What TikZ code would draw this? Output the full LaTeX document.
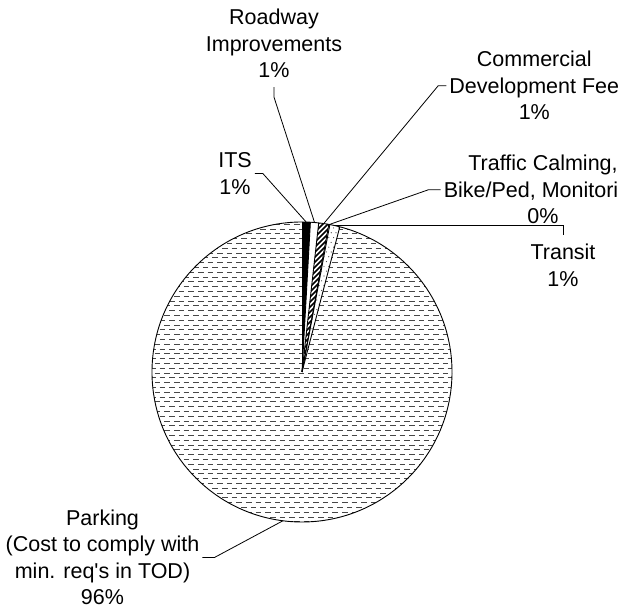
\documentclass[tikz,border=0pt]{standalone}
\usepackage{fontspec}
\setmainfont{Liberation Sans}
\usetikzlibrary{calc}

\begin{document}
\begin{tikzpicture}[x=1pt, y=1pt,
    lbl/.style={align=center, inner xsep=3pt, inner ysep=9pt, font=\fontsize{21.5}{26.5}\selectfont},
    leader/.style={draw=black, line width=0.8pt},
    rim/.style={draw=black, line width=0.9pt},
    dashrow/.style={draw=black!72, line width=1pt, dash pattern=on 5.5pt off 4.1pt}]
  \useasboundingbox (0,0) rectangle (622,612);
  % pie centre, radius and slice borders (clockwise from the top)
  \def\R{150}
  \def\aa{90} \def\ab{86.8} \def\ac{83.6} \def\ad{79.7} \def\ae{79.3} \def\af{75.4} \def\ag{-270}
  \coordinate (c) at (302,240);
  % ITS
  \fill[black] (c) -- ++(\aa:\R) arc[start angle=\aa, end angle=\ab, radius=\R] -- cycle;
  % commercial development fee
  \begin{scope}
    \clip (c) -- ++(\ac:\R) arc[start angle=\ac, end angle=\ad, radius=\R] -- cycle;
    \foreach \k in {0,...,40}
      \draw[line width=1.5pt] (135+\k*5,230) -- ++(170,170);
  \end{scope}
  % transit
  \begin{scope}
    \clip (c) -- ++(\ae:\R) arc[start angle=\ae, end angle=\af, radius=\R] -- cycle;
    \foreach \j in {0,...,32}
      \foreach \i in {0,...,9}
        \fill[black!75] ({300+\i*4.8+mod(\j,2)*2.4},240+\j*4.8) circle[radius=0.6];
  \end{scope}
  % parking
  \begin{scope}
    \clip (c) -- ++(\af:\R) arc[start angle=\af, end angle=\ag, radius=\R] -- cycle;
    \foreach \k [evaluate=\k as \ph using {mod(\k,2)*4.8}] in {0,...,63}
      \draw[dashrow, dash phase=\ph pt] (150,90+\k*4.8) -- (456,90+\k*4.8);
  \end{scope}
  % slice borders
  \foreach \a in {\aa,\ab,\ac,\ad,\ae,\af}
    \draw[rim] (c) -- ++(\a:\R);
  \draw[rim] (c) circle[radius=\R];
  % leader ends on the rim
  \path (c) ++(88.4:\R) coordinate (p-its);
  \path (c) ++(85.2:\R) coordinate (p-road);
  \path (c) ++(81.65:\R) coordinate (p-comm);
  \path (c) ++(79.5:\R) coordinate (p-traf);
  \path (c) ++(77.35:\R) coordinate (p-tran);
  \path (c) ++(-97.3:\R) coordinate (p-park);
  % labels
  \node[lbl] (its) at (235,438.4) {ITS\\1\%};
  \node[lbl] (road) at (274,568.4) {Roadway\\Improvements\\1\%};
  \node[lbl] (comm) at (534.3,526.3) {Commercial\\Development Fee\\1\%};
  \node[lbl] (traf) at (543,422.3) {Traffic Calming,\\Bike/Ped, Monitori\hphantom{ng}\\0\%};
  \node[lbl] (tran) at (563,346.6) {Transit\\1\%};
  \node[lbl] (park) at (102.5,54.5) {Parking\\(Cost to comply with\\min. req\textquotesingle s in TOD)\\96\%};
  % leaders
  \draw[leader] (its.east) -- ++(8,0) -- (p-its);
  \draw[leader] (road.south) -- ++(0,-10) -- (p-road);
  \draw[leader] (comm.west) -- ++(-8,0) -- (p-comm);
  \draw[leader] (traf.west) -- ++(-12,0) -- (p-traf);
  \draw[leader] (p-tran) -| (tran.north);
  \draw[leader] (park.east) -- ++(12,0) -- (p-park);
\end{tikzpicture}
\end{document}
